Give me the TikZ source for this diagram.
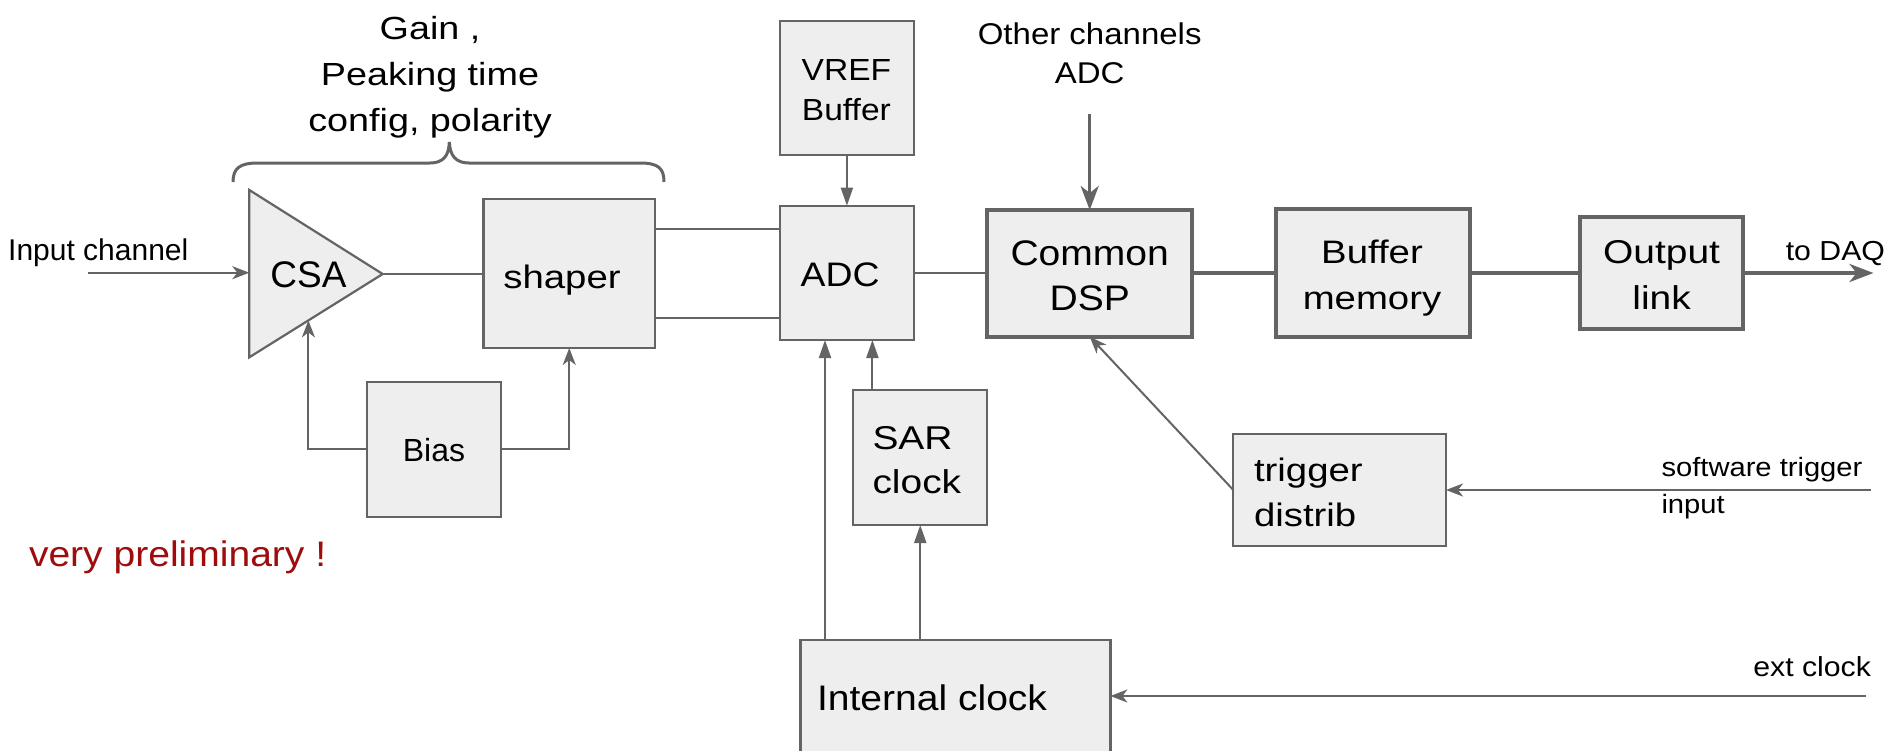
\documentclass[tikz,border=0pt]{standalone}
\usepackage{fontspec}
\setmainfont{Liberation Sans}
\newfontfamily\fN{Liberation Sans}
\newfontfamily\fM[FakeStretch=1.1]{Liberation Sans}
\newfontfamily\fW[FakeStretch=1.18]{Liberation Sans}
\usetikzlibrary{arrows.meta,calc}
\definecolor{lc}{RGB}{100,100,100}
\definecolor{bf}{RGB}{238,238,238}
\definecolor{prelim}{RGB}{158,12,12}
\begin{document}
\begin{tikzpicture}[x=1pt,y=-1pt,
  blk/.style={draw=lc,fill=bf,line width=2.2pt,inner sep=0pt,outer sep=0pt,rectangle},
  tblk/.style={blk,line width=4pt},
  ln/.style={draw=lc,line width=2pt},
  tln/.style={draw=lc,line width=4pt},
  sarr/.style={-{Stealth[length=17pt,width=13pt,inset=5pt]}},
  bigarr/.style={-{Stealth[length=24pt,width=18pt,inset=7pt]}},
  tarr/.style={-{Triangle[length=18pt,width=12pt]}},
  txt/.style={inner sep=0pt,outer sep=0pt,text=black},
]
\useasboundingbox (0,0) rectangle (1889,750);

% ---- boxes ----
\path[blk] (249.3,190) -- (382.7,274) -- (249.3,357.3) -- cycle;
\coordinate (csatip) at (382.7,274);
\coordinate (csain) at (249.3,272.7);
\coordinate (csafb) at (308.4,320.4);
\node[blk,minimum width=171.5pt,minimum height=149pt] (shaper) at (569.25,273.5) {};
\node[blk,minimum width=134pt,minimum height=134.7pt] (bias) at (434.1,449.35) {};
\node[blk,minimum width=133.8pt,minimum height=134.3pt] (vref) at (846.9,87.85) {};
\node[blk,minimum width=133.8pt,minimum height=134.3pt] (adc) at (846.9,272.85) {};
\node[tblk,minimum width=205.4pt,minimum height=126.7pt] (dsp) at (1089.7,273.35) {};
\node[tblk,minimum width=194.3pt,minimum height=127.4pt] (buf) at (1372.85,273) {};
\node[tblk,minimum width=163pt,minimum height=112.6pt] (outl) at (1661.5,273) {};
\node[blk,minimum width=133.9pt,minimum height=135pt] (sar) at (920.25,457.5) {};
\node[blk,minimum width=212.7pt,minimum height=111.4pt] (trig) at (1339.65,490) {};
\node[blk,minimum width=309.9pt,minimum height=120pt] (intc) at (955.45,700) {};

% ---- brace ----
\draw[lc,line width=3pt] (233,182) .. controls (233,168) and (240,163) .. (258,163)
  -- (430,163) .. controls (443,163) and (449,156) .. (449.3,142)
  .. controls (450,156) and (456,163) .. (469,163)
  -- (640,163) .. controls (658,163) and (664,168) .. (664,182);

% ---- texts ----
\node[txt,align=center,font=\fW\fontsize{32}{46}\selectfont] (gain) at (430,76.65)
  {\strut Gain ,\\Peaking time\\\strut config, polarity};
\node[txt,anchor=base west,font=\fN\fontsize{30}{36}\selectfont] (inlabel) at (8.2,260.7) {Input channel};
\node[txt,anchor=base,font=\fN\fontsize{37}{44}\selectfont] (csa) at (308.5,287.3) {CSA};
\node[txt,anchor=base,font=\fW\fontsize{32.5}{40}\selectfont] (shapert) at (562,288) {shaper};
\node[txt,anchor=base,font=\fN\fontsize{32}{38}\selectfont] (biast) at (434,461.7) {Bias};
\node[txt,anchor=base west,font=\fM\fontsize{35.5}{42}\selectfont,text=prelim] (prel) at (29,566.7) {very preliminary !};
\node[txt,align=center,font=\fM\fontsize{30.5}{40}\selectfont] (vreft) at (846.4,92) {\strut VREF\\\strut Buffer};
\node[txt,anchor=base,font=\fM\fontsize{34}{40}\selectfont] (adct) at (840.2,286) {ADC};
\node[txt,align=center,font=\fM\fontsize{30}{39}\selectfont] (other) at (1089.7,56) {\strut Other channels\\\strut ADC};
\node[txt,align=center,font=\fM\fontsize{35.5}{45}\selectfont] (dspt) at (1089.7,278.5) {\strut Common\\\strut DSP};
\node[txt,align=center,font=\fW\fontsize{32.5}{46}\selectfont] (buft) at (1372,277.1) {\strut Buffer\\\strut memory};
\node[txt,align=center,font=\fW\fontsize{33}{46.7}\selectfont] (outt) at (1661.6,277.3) {\strut Output\\\strut link};
\node[txt,anchor=base,font=\fM\fontsize{27.5}{34}\selectfont] (daq) at (1835.4,260) {to DAQ};
\node[txt,anchor=west,align=left,font=\fW\fontsize{32.5}{45}\selectfont] (trigt) at (1254,495.2) {\strut trigger\\\strut distrib};
\node[txt,anchor=west,align=left,font=\fM\fontsize{26.5}{36.6}\selectfont] (swt) at (1661.5,487.7) {\strut software trigger\\\strut input};
\node[txt,anchor=west,align=left,font=\fW\fontsize{33}{44.7}\selectfont] (sart) at (872.5,462.7) {\strut SAR\\\strut clock};
\node[txt,anchor=base west,font=\fM\fontsize{35.5}{42}\selectfont] (intct) at (817,710) {Internal clock};
\node[txt,anchor=base east,font=\fM\fontsize{27.5}{34}\selectfont] (extt) at (1871,676) {ext clock};

% ---- free ends ----
\coordinate (inl) at (88,272.7);
\coordinate (othend) at (1089.7,114.3);
\coordinate (daqend) at (1873.5,273);
\coordinate (swin) at (1871.4,490);
\coordinate (extin) at (1865.5,696);

% ---- connectors ----
\draw[ln,sarr] (inl) -- (csain);
\draw[ln] (csatip) -- (shaper.west |- csatip);
\draw[ln] (shaper.east |- 0,229.3) -- (adc.west |- 0,229.3);
\draw[ln] (shaper.east |- 0,317.7) -- (adc.west |- 0,317.7);
\draw[ln,sarr] (bias.west) -| (csafb);
\draw[ln,sarr] (bias.east) -| (shaper.south);
\draw[ln,tarr] (vref.south) -- (adc.north);
\draw[ln] (adc.east) -- (dsp.west |- adc.east);
\draw[draw=lc,line width=3.2pt,bigarr] (othend) -- (dsp.north);
\draw[tln] (dsp.east) -- (buf.west |- dsp.east);
\draw[tln] (buf.east) -- (outl.west |- buf.east);
\draw[tln,bigarr] (outl.east) -- (daqend);
\draw[ln,sarr] (trig.west) -- (dsp.south);
\draw[ln,sarr] (swin) -- (trig.east |- swin);
\draw[ln,tarr] (sar.north -| 872.4,0) -- (adc.south -| 872.4,0);
\draw[ln,tarr] (intc.north -| 825,0) -- (adc.south -| 825,0);
\draw[ln,tarr] (intc.north -| sar.south) -- (sar.south);
\draw[ln,sarr] (extin) -- (intc.east |- extin);
\end{tikzpicture}
\end{document}
